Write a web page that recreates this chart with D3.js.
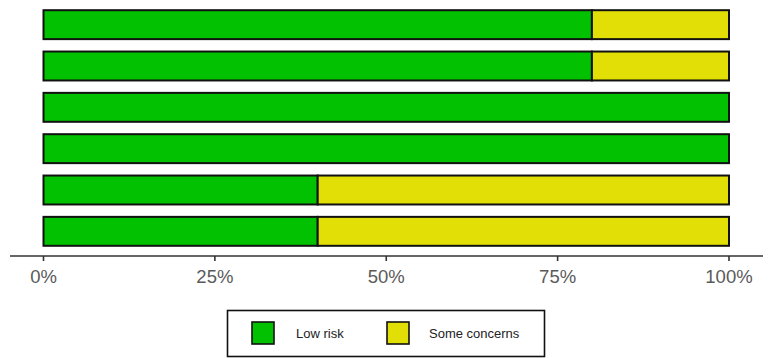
<!DOCTYPE html>
<html>
<head>
<meta charset="utf-8">
<script src="https://cdn.jsdelivr.net/npm/d3@7"></script>
<style>
  html, body { margin: 0; padding: 0; background: #fff; }
  svg { display: block; }
</style>
</head>
<body>
<svg id="chart" width="772" height="358"></svg>
<script>
// Domains, top to bottom
const domains = ["D1", "D2", "D3", "D4", "D5", "Overall"];
// Percent of studies per judgement
const lowRisk      = [80, 80, 100, 100, 40, 40];
const someConcerns = [20, 20, 0, 0, 60, 60];
const seriesNames  = ["Low risk", "Some concerns"];
const seriesColors = ["#02C100", "#E2DF07"];
const tickValues   = [0, 25, 50, 75, 100];
const tickLabels   = ["0%", "25%", "50%", "75%", "100%"];

const svg = d3.select("#chart");

const x = d3.scaleLinear().domain([0, 100]).range([43.5, 729]);
const y = d3.scaleBand().domain(domains).range([4, 252])
  .paddingInner(0.3).paddingOuter(0.15);

const rows = domains.map((d, i) => ({ domain: d, "Low risk": lowRisk[i], "Some concerns": someConcerns[i] }));
const stacked = d3.stack().keys(seriesNames)(rows);

const color = d3.scaleOrdinal().domain(seriesNames).range(seriesColors);

svg.append("g")
  .selectAll("g")
  .data(stacked)
  .join("g")
  .attr("fill", d => color(d.key))
  .selectAll("rect")
  .data(d => d.filter(p => p[1] - p[0] > 0))
  .join("rect")
  .attr("x", p => x(p[0]))
  .attr("width", p => x(p[1]) - x(p[0]))
  .attr("y", p => y(p.data.domain))
  .attr("height", y.bandwidth())
  .attr("stroke", "#111")
  .attr("stroke-width", 2);

// Bottom axis
const axisY = 256;
const axisG = svg.append("g").attr("transform", `translate(0,${axisY})`);
axisG.append("line")
  .attr("x1", 10).attr("x2", 763)
  .attr("y1", 0).attr("y2", 0)
  .attr("stroke", "#333").attr("stroke-width", 1.6);
axisG.selectAll("line.tick")
  .data(tickValues)
  .join("line")
  .attr("class", "tick")
  .attr("x1", d => x(d)).attr("x2", d => x(d))
  .attr("y1", 0).attr("y2", 5)
  .attr("stroke", "#333").attr("stroke-width", 1.6);
axisG.selectAll("text")
  .data(tickValues)
  .join("text")
  .attr("x", d => x(d))
  .attr("y", 27)
  .attr("text-anchor", "middle")
  .attr("font-family", "'Liberation Sans', Arial, sans-serif")
  .attr("font-size", 18.5)
  .attr("fill", "#5a5a5a")
  .text((d, i) => tickLabels[i]);

// Legend
const legend = svg.append("g");
legend.append("rect")
  .attr("x", 227.5).attr("y", 310.5)
  .attr("width", 317).attr("height", 46)
  .attr("fill", "#fff").attr("stroke", "#111").attr("stroke-width", 1.6);

const legendItems = [
  { key: seriesNames[0], sx: 252, tx: 296 },
  { key: seriesNames[1], sx: 387, tx: 429 }
];
legendItems.forEach(it => {
  legend.append("rect")
    .attr("x", it.sx).attr("y", 322)
    .attr("width", 22).attr("height", 22)
    .attr("fill", color(it.key))
    .attr("stroke", "#111").attr("stroke-width", 1.6);
  legend.append("text")
    .attr("x", it.tx).attr("y", 338)
    .attr("font-family", "'Liberation Sans', Arial, sans-serif")
    .attr("font-size", 13)
    .attr("fill", "#222")
    .text(it.key);
});
</script>
</body>
</html>
